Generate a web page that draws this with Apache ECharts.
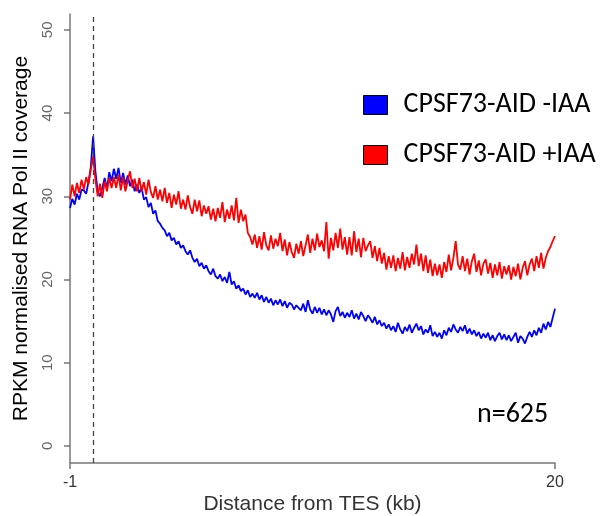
<!DOCTYPE html>
<html>
<head>
<meta charset="utf-8">
<script src="https://cdn.jsdelivr.net/npm/echarts@6/dist/echarts.min.js"></script>
<style>
  html, body { margin: 0; padding: 0; background: #fff; }
  #chart { width: 605px; height: 516px; }
</style>
</head>
<body>
<div id="chart"></div>
<script>
// bins along the gene end, in kb from the TES
var binStart = -1;
var binSize = 0.1;

// CPSF73-AID -IAA (blue)
var minusIAA = [
  28.6, 29.7, 29.0, 30.3, 29.6, 30.8, 30.7, 30.3, 31.7, 33.5,
  37.2, 33.0, 30.6, 30.0, 31.0, 32.2, 30.9, 32.9, 31.8, 33.3,
  32.1, 33.4, 31.6, 32.8, 31.4, 32.5, 31.2, 32.0, 30.6, 31.4,
  30.4, 31.0, 29.6, 29.9, 28.7, 29.2, 27.9, 28.3, 27.0, 26.7,
  26.2, 25.9, 25.2, 25.6, 24.7, 25.0, 24.2, 24.6, 23.8, 24.1,
  23.4, 23.0, 23.5, 22.6, 22.1, 22.5, 21.6, 22.0, 21.3, 21.7,
  21.0, 20.6, 21.3, 20.4, 20.1, 20.6, 19.8, 20.3, 19.6, 20.9,
  19.4, 19.8, 18.9, 19.3, 18.6, 18.9, 18.2, 18.7, 17.9, 18.3,
  17.8, 18.4, 17.6, 18.1, 17.3, 17.9, 17.2, 17.7, 16.9, 17.5,
  17.0, 17.6, 16.8, 17.4, 16.6, 17.2, 17.0, 16.4, 16.9, 16.6,
  16.3, 17.1, 16.1, 17.5, 16.4, 15.9, 16.7, 16.0, 16.6, 15.8,
  16.4, 15.7, 16.3, 15.8, 14.9, 16.2, 16.7, 15.6, 16.1, 15.4,
  16.0, 15.5, 16.3, 15.3, 15.9, 15.2, 16.1, 15.6, 15.0, 15.7,
  15.3, 14.8, 15.5, 14.6, 15.1, 14.4, 14.8, 14.1, 14.6, 13.9,
  14.4, 13.7, 14.8, 14.0, 13.5, 14.3, 13.8, 14.6, 13.6, 14.2,
  14.7, 13.9, 14.4, 13.4, 14.0, 13.6, 14.5, 13.2, 13.7, 13.1,
  13.6, 12.9, 13.9, 13.3, 14.2, 13.7, 14.6, 14.0, 13.6, 14.3,
  13.8, 14.5, 13.5, 14.1, 13.4, 13.9, 13.2, 13.7, 12.9, 13.5,
  13.0, 13.6, 12.7, 13.3, 12.6, 13.2, 13.6, 12.8, 13.4, 12.7,
  13.3, 12.6, 13.1, 13.6, 12.4, 13.2, 12.9, 12.3, 13.1, 13.7,
  13.1, 13.9, 13.3, 14.2, 13.6, 14.7, 14.0, 14.9, 14.3, 15.4,
  16.5
];

// CPSF73-AID +IAA (red)
var plusIAA = [
  29.6, 31.4, 30.0, 31.6, 30.4, 32.0, 30.8, 32.3, 31.4, 33.2,
  34.8, 32.0, 30.0, 31.5, 29.8, 31.8, 30.6, 32.2, 31.0, 32.3,
  31.0, 32.6, 30.7, 32.3, 30.6, 31.9, 33.0, 31.0, 32.1, 30.6,
  32.2, 30.6, 31.7, 30.2, 32.0, 30.5, 29.8, 31.2, 29.6, 30.8,
  29.4, 31.0, 29.2, 30.4, 28.6, 30.2, 29.0, 30.6, 28.5, 29.6,
  28.4, 30.1, 28.7, 27.9, 29.6, 28.2, 29.5, 27.6, 28.9, 27.9,
  28.8, 27.2, 28.5, 27.0, 28.6, 27.4, 29.3, 26.9, 28.4, 27.3,
  28.9, 27.1, 29.8, 26.8, 28.4, 27.0, 27.8, 25.6, 25.1, 24.2,
  25.4, 23.8, 25.2, 23.6, 25.7, 24.1, 23.5, 25.3, 23.7, 24.9,
  24.0, 25.6, 23.4, 24.8, 22.9, 24.5, 23.3, 22.6, 24.3, 23.1,
  24.6, 22.8, 24.1, 25.4, 23.2, 24.9, 23.5, 25.5, 23.9, 24.7,
  23.4, 26.9, 22.5, 25.0, 23.5, 25.6, 23.8, 26.1, 23.6, 25.1,
  23.0, 25.1, 22.9, 25.8, 23.3, 24.9, 22.7, 25.0, 23.4, 24.1,
  24.6, 22.6, 24.0, 22.2, 23.8, 21.9, 23.2, 21.2, 22.8, 21.4,
  22.9, 21.0, 22.6, 21.3, 23.3, 21.1, 22.7, 21.4, 23.1, 21.8,
  24.2, 21.6, 23.1, 21.0, 22.9, 20.8, 22.4, 20.4, 21.9, 20.5,
  21.8, 20.2, 22.1, 20.9, 23.0, 21.1, 22.6, 24.6, 21.8, 21.2,
  22.8, 21.0, 22.5, 20.6, 22.2, 23.1, 20.9, 22.3, 20.5, 21.9,
  22.4, 20.7, 22.0, 20.2, 21.8, 20.5, 22.1, 20.1, 21.6, 20.6,
  21.7, 20.0, 21.5, 20.4, 21.9, 20.0, 21.4, 22.2, 20.5, 21.8,
  22.5, 21.0, 22.8, 21.4, 23.2, 21.3, 22.6, 23.4, 23.9, 24.6,
  25.2
];

var xTicks = [-1, 20];
var yTicks = [0, 10, 20, 30, 40, 50];
var seriesNames = ['CPSF73-AID -IAA', 'CPSF73-AID +IAA'];

// 把数值和分箱位置配对
var toPairs = function (vals) {
  var res = [];
  for (var i = 0; i < vals.length; i++) {
    res.push([+(binStart + i * binSize).toFixed(2), vals[i]]);
  }
  return res;
};

var axisFont = '"Liberation Sans", Arial, sans-serif';
var noteFont = 'Carlito, "Open Sans", sans-serif';

var myChart = echarts.init(document.getElementById('chart'));
myChart.setOption({
  backgroundColor: '#fff',
  animation: false,
  grid: { left: 70, right: 50, top: 14, bottom: 53, outerBoundsMode: 'none' },
  legend: {
    orient: 'vertical',
    left: 358,
    top: 85,
    icon: 'rect',
    itemWidth: 24,
    itemHeight: 19,
    itemGap: 20,
    itemStyle: { borderColor: '#000', borderWidth: 1 },
    textStyle: {
      fontFamily: noteFont,
      fontSize: 28,
      lineHeight: 30,
      color: '#000',
      padding: [0, 0, 0, 11]
    },
    data: seriesNames
  },
  xAxis: {
    type: 'value',
    min: -1,
    max: 20,
    name: 'Distance from TES (kb)',
    nameLocation: 'middle',
    nameGap: 31,
    nameMoveOverlap: false,
    nameTextStyle: { fontFamily: axisFont, fontSize: 21, color: '#333' },
    axisLine: { onZero: false, lineStyle: { color: '#777', width: 1.5 } },
    axisTick: { customValues: xTicks, length: 6, lineStyle: { color: '#777', width: 1.5 } },
    axisLabel: { customValues: xTicks, fontFamily: axisFont, fontSize: 16, color: '#333', margin: 12 },
    splitLine: { show: false }
  },
  yAxis: {
    type: 'value',
    min: -2.05,
    max: 51.9,
    name: 'RPKM normalised RNA Pol II coverage',
    nameLocation: 'middle',
    nameGap: 38,
    nameMoveOverlap: false,
    nameTextStyle: { fontFamily: axisFont, fontSize: 21, color: '#000' },
    axisLine: { show: true, onZero: false, lineStyle: { color: '#777', width: 1.5 } },
    axisTick: { show: true, customValues: yTicks, length: 6, lineStyle: { color: '#777', width: 1.5 } },
    axisLabel: { customValues: yTicks, rotate: 90, fontFamily: axisFont, fontSize: 15, color: '#666', margin: 15 },
    splitLine: { show: false }
  },
  graphic: [{
    type: 'text',
    left: 477,
    top: 401,
    style: { text: 'n=625', font: '28px ' + noteFont, fill: '#000' }
  }],
  series: [
    {
      name: seriesNames[0],
      type: 'line',
      showSymbol: false,
      color: '#0000ff',
      lineStyle: { color: '#0000ff', width: 1.8 },
      data: toPairs(minusIAA),
      markLine: {
        silent: true,
        symbol: 'none',
        label: { show: false },
        lineStyle: { color: '#444', type: [5, 4], width: 1.3 },
        data: [{ xAxis: 0 }]
      }
    },
    {
      name: seriesNames[1],
      type: 'line',
      showSymbol: false,
      color: '#ff0000',
      lineStyle: { color: '#ff0000', width: 1.8 },
      data: toPairs(plusIAA)
    }
  ]
});
</script>
</body>
</html>
